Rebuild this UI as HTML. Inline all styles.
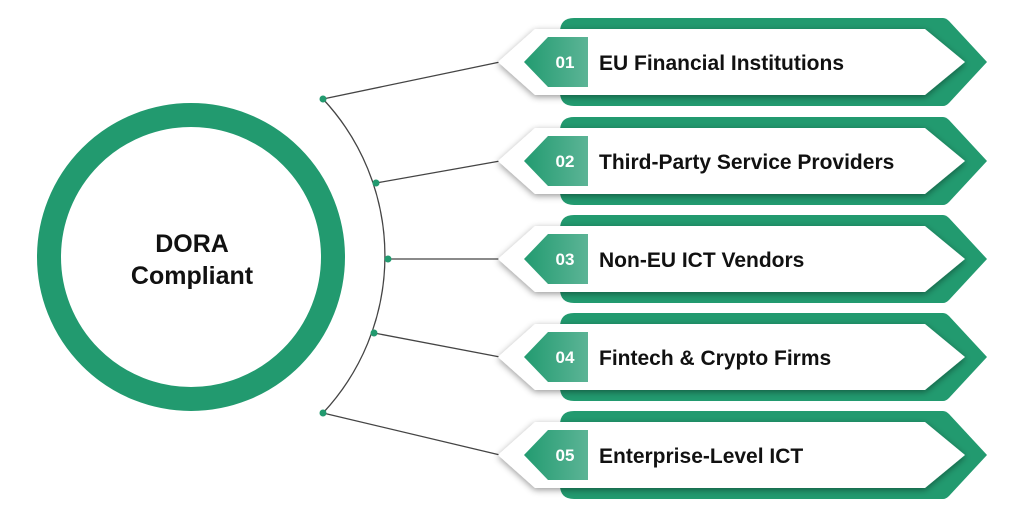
<!DOCTYPE html>
<html><head><style>body{margin:0;background:#fff}svg{display:block}</style></head><body>
<svg width="1024" height="509" viewBox="0 0 1024 509" xmlns="http://www.w3.org/2000/svg" font-family="Liberation Sans, sans-serif">
<defs>
<filter id="sh" x="-10%" y="-30%" width="120%" height="160%"><feDropShadow dx="0" dy="2" stdDeviation="3.5" flood-color="#000" flood-opacity="0.4"/></filter>
<linearGradient id="tg" x1="0" x2="1"><stop offset="0" stop-color="#229b70"/><stop offset="1" stop-color="#5cb496"/></linearGradient>
<g id="card">
<path d="M574,-44 L943,-44 Q946,-44 949,-41 L987,0 L949,41 Q946,44 943,44 L574,44 Q560,44 560,30 L560,-30 Q560,-44 574,-44 Z" fill="#229a6f"/>
<path d="M535,-33 L925,-33 L965,0 L925,33 L535,33 L498,0 Z" fill="#fff" filter="url(#sh)"/>
<path d="M548,-25 L588,-25 L588,25 L548,25 L524,0 Z" fill="url(#tg)"/>
</g>
</defs>
<circle cx="191" cy="257" r="142" fill="none" stroke="#229a6f" stroke-width="24"/>
<text x="192" y="252" font-size="25" font-weight="bold" text-anchor="middle" fill="#111">DORA</text>
<text x="192" y="284" font-size="25" font-weight="bold" text-anchor="middle" fill="#111">Compliant</text>
<path d="M323,99 A230,230 0 0 1 323,413" fill="none" stroke="#444" stroke-width="1.3"/>
<g stroke="#444" stroke-width="1.3">
<line x1="323" y1="99" x2="500" y2="62"/><line x1="376" y1="183" x2="500" y2="161"/><line x1="388" y1="259" x2="500" y2="259"/><line x1="374" y1="333" x2="500" y2="357"/><line x1="323" y1="413" x2="500" y2="455"/>
</g>
<g fill="#229a6f"><circle cx="323" cy="99" r="3.5"/><circle cx="376" cy="183" r="3.5"/><circle cx="388" cy="259" r="3.5"/><circle cx="374" cy="333" r="3.5"/><circle cx="323" cy="413" r="3.5"/></g>
<g font-size="21" font-weight="bold">
<use href="#card" y="62"/><use href="#card" y="161"/><use href="#card" y="259"/><use href="#card" y="357"/><use href="#card" y="455"/>
<g fill="#fff" font-size="17" text-anchor="middle"><text x="565" y="68">01</text><text x="565" y="167">02</text><text x="565" y="265">03</text><text x="565" y="363">04</text><text x="565" y="461">05</text></g>
<g fill="#111"><text x="599" y="70">EU Financial Institutions</text><text x="599" y="169">Third-Party Service Providers</text><text x="599" y="267">Non-EU ICT Vendors</text><text x="599" y="365">Fintech &amp; Crypto Firms</text><text x="599" y="463">Enterprise-Level ICT</text></g>
</g>
</svg>
</body></html>
